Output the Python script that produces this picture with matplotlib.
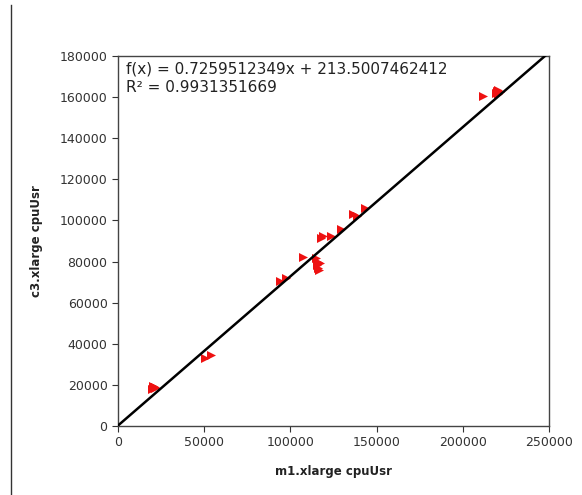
import matplotlib
matplotlib.use('Agg')
import matplotlib.pyplot as plt
import numpy as np

# m1.xlarge cpuUsr vs c3.xlarge cpuUsr
m1_cpu = [19800, 20400, 21000, 21600, 20200, 21200,
          50400, 53900,
          94000, 97400,
          107300,
          115000, 116000, 115500, 116200, 116600, 117000,
          117700, 118900, 123500,
          129300,
          136300, 138600,
          143300,
          211700,
          219000, 219800, 220600, 221400, 220200]
c3_cpu = [18000, 18600, 19200, 18800, 19400, 18300,
          33000, 34500,
          70500, 71900,
          82100,
          81500, 80000, 78500, 77000, 76000, 79200,
          91400, 92300, 92300,
          95700,
          103000, 102100,
          106000,
          160600,
          161800, 162800, 163300, 162400, 161500]

slope = 0.7259512349
intercept = 213.5007462412
r2 = 0.9931351669

x_ticks = [0, 50000, 100000, 150000, 200000, 250000]
y_ticks = [0, 20000, 40000, 60000, 80000, 100000, 120000, 140000, 160000, 180000]

fig = plt.figure(figsize=(5.82, 4.95), dpi=100)
ax = fig.add_axes([118/582, 1-426/495, 431/582, 370/495])

# frame edge on the left of the page
fig.add_artist(plt.Line2D([11/582, 11/582], [0, 0.99], color='#333333', lw=1.0))

ax.scatter(m1_cpu, c3_cpu, marker='>', s=42, color='#ee1111', zorder=3, linewidths=0)

xx = np.array([0, 250000])
ax.plot(xx, slope*xx + intercept, color='black', lw=1.8, zorder=4)

ax.set_xlim(0, 250000)
ax.set_ylim(0, 180000)
ax.set_xticks(x_ticks)
ax.set_yticks(y_ticks)
ax.tick_params(labelsize=9, colors='#333333', direction='out', length=4)
for s in ax.spines.values():
    s.set_color('#444444')
    s.set_linewidth(1.0)

ax.set_xlabel('m1.xlarge cpuUsr', fontsize=8.5, fontweight='bold', color='#222222', labelpad=11)
ax.set_ylabel('c3.xlarge cpuUsr', fontsize=8.5, fontweight='bold', color='#222222', labelpad=12)

ax.text(0.018, 0.985, 'f(x) = 0.7259512349x + %s\nR² = %s' % ('213.5007462412', '0.9931351669'),
        transform=ax.transAxes, ha='left', va='top', fontsize=11, color='#222222',
        linespacing=1.25)

fig.savefig('out.png', dpi=100)
